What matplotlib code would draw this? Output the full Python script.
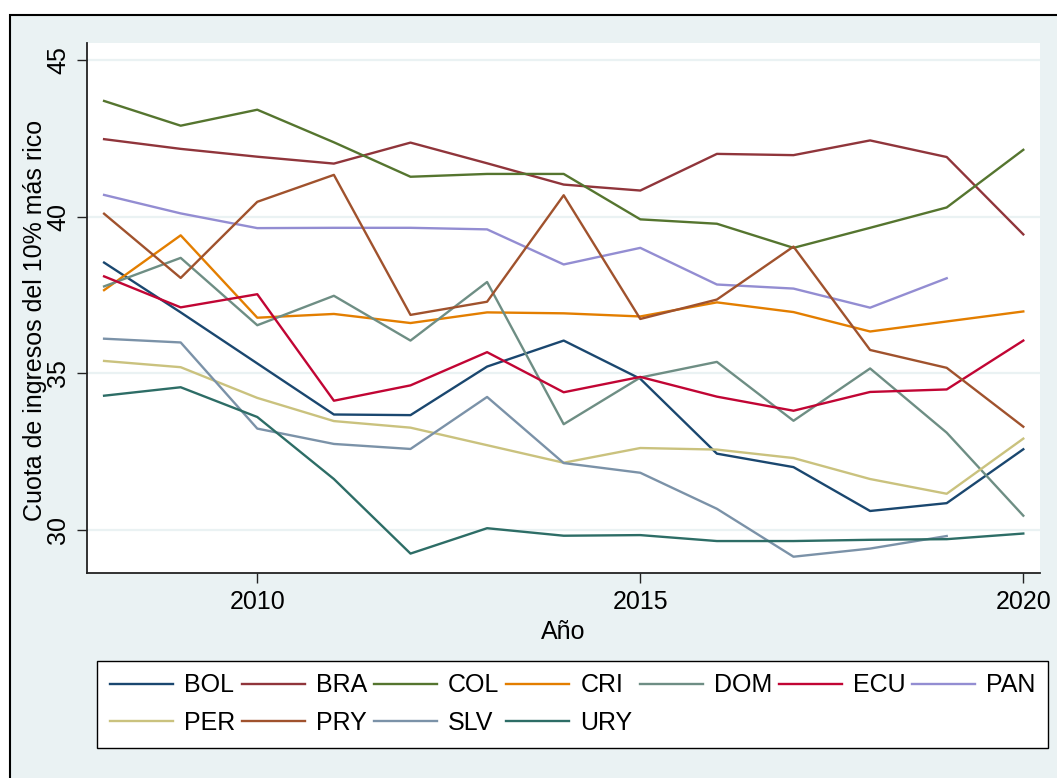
import numpy as np
import matplotlib
matplotlib.use('Agg')
import matplotlib.pyplot as plt
from matplotlib.patches import Rectangle

plt.rcParams['font.family'] = ['Liberation Sans', 'DejaVu Sans']

# data (share of income of richest 10%)
years = list(range(2008, 2021))
countries = ['BOL', 'BRA', 'COL', 'CRI', 'DOM', 'ECU', 'PAN',
             'PER', 'PRY', 'SLV', 'URY']
bol = [38.53, 36.94, 35.31, 33.68, 33.66, 35.21, 36.04, 34.82, 32.43, 32.00, 30.60, 30.85, 32.57]
bra = [42.47, 42.16, 41.91, 41.69, 42.36, 41.70, 41.02, 40.83, 42.00, 41.96, 42.43, 41.90, 39.43]
col = [43.69, 42.90, 43.41, 42.37, 41.27, 41.36, 41.36, 39.91, 39.77, 39.00, 39.64, 40.29, 42.13]
cri = [37.65, 39.40, 36.77, 36.89, 36.60, 36.94, 36.91, 36.81, 37.26, 36.95, 36.33, 36.65, 36.97]
dom = [37.77, 38.68, 36.53, 37.47, 36.04, 37.91, 33.37, 34.86, 35.36, 33.48, 35.15, 33.10, 30.45]
ecu = [38.09, 37.10, 37.52, 34.12, 34.61, 35.67, 34.39, 34.88, 34.25, 33.80, 34.40, 34.48, 36.04]
pan = [40.69, 40.10, 39.63, 39.64, 39.64, 39.59, 38.47, 39.00, 37.83, 37.70, 37.09, 38.03, np.nan]
per = [35.39, 35.19, 34.21, 33.47, 33.26, 32.70, 32.14, 32.61, 32.56, 32.29, 31.62, 31.15, 32.91]
pry = [40.09, 38.04, 40.47, 41.33, 36.86, 37.28, 40.68, 36.73, 37.35, 39.04, 35.74, 35.17, 33.29]
slv = [36.10, 35.98, 33.23, 32.74, 32.58, 34.24, 32.13, 31.82, 30.67, 29.14, 29.40, 29.80, np.nan]
ury = [34.28, 34.55, 33.60, 31.62, 29.24, 30.05, 29.81, 29.83, 29.64, 29.64, 29.68, 29.70, 29.88]
series = [bol, bra, col, cri, dom, ecu, pan, per, pry, slv, ury]

# stata s2color palette
colors = ['#1a476f', '#90353b', '#55752f', '#e37e00', '#6e8e84', '#c10534',
          '#938dd2', '#cac27e', '#a0522d', '#7b92a8', '#2d6d66']

bg = '#eaf2f3'

fig = plt.figure(figsize=(10.57, 7.78), dpi=100, facecolor='white')

# graph region with black frame (cropped on the right and bottom)
fig.patches.append(Rectangle((10/1057, -0.1), 1.2, 1 - 15/778 + 0.1,
                             transform=fig.transFigure, facecolor=bg,
                             edgecolor='black', lw=1.5, zorder=-1))

ax = fig.add_axes([87/1057, 1 - 573/778, (1040 - 87)/1057, (573 - 43)/778])
ax.set_facecolor('white')

lines = {}
for name, y, c in zip(countries, series, colors):
    lines[name], = ax.plot(years, y, color=c, lw=1.7, label=name)

ax.set_xlim(2007.777, 2020.218)
ax.set_ylim(28.62, 45.54)
ax.set_xticks([2010, 2015, 2020])
ax.set_yticks([30, 35, 40, 45])
ax.yaxis.grid(True, color=bg, lw=1.6)
ax.set_axisbelow(True)

for s in ['top', 'right']:
    ax.spines[s].set_visible(False)
for s in ['left', 'bottom']:
    ax.spines[s].set_linewidth(1.3)
    ax.spines[s].set_color('#222222')

ax.tick_params(axis='both', direction='out', length=7.3, width=1,
               labelsize=18, color='#222222')
ax.tick_params(axis='x', pad=5)
ax.tick_params(axis='y', pad=5)
for lab in ax.get_yticklabels():
    lab.set_rotation(90)
    lab.set_va('center')
    lab.set_ha('right')

ax.set_xlabel('Año', fontsize=18, labelpad=4)
ax.set_ylabel('Cuota de ingresos del 10% más rico', fontsize=18)
ax.yaxis.set_label_coords(-0.042, 0.477)

# legend below the plot, filled row by row like stata
# (matplotlib fills columns, so reorder the entries)
order = ['BOL', 'PER', 'BRA', 'PRY', 'COL', 'SLV', 'CRI', 'URY',
         'DOM', 'ECU', 'PAN']
leg = fig.legend([lines[k] for k in order], order,
                 loc='upper left', bbox_to_anchor=(97/1057, 1 - 661/778),
                 ncol=7, fontsize=18, frameon=True, fancybox=False,
                 handlelength=2.52, handletextpad=0.44, columnspacing=0.28,
                 labelspacing=0.54, borderpad=0.5, borderaxespad=0)
leg.get_frame().set_edgecolor('black')
leg.get_frame().set_linewidth(1.0)
leg.get_frame().set_facecolor('white')
leg.get_frame().set_alpha(1)

fig.savefig('out.png', dpi=100, facecolor=fig.get_facecolor())
